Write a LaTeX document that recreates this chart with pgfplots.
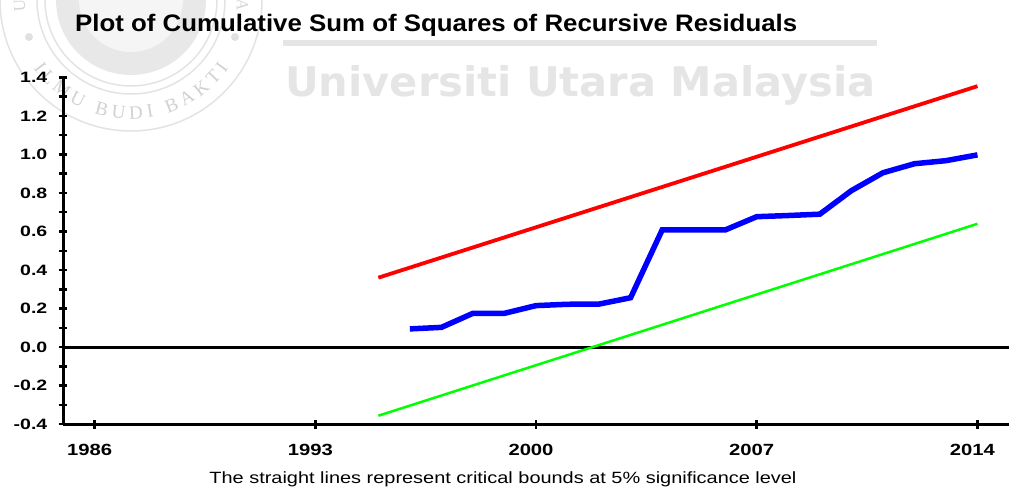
\documentclass[border=0pt]{standalone}
\usepackage{pgfplots}
\pgfplotsset{compat=1.18}
\usepackage{fontspec}
\setmainfont{Liberation Sans}
\newfontfamily\wmfont{DejaVu Sans}
\newfontfamily\logofont{Liberation Serif}
\usetikzlibrary{decorations.text}

% bold, widened tick labels
\newcommand\ytk[1]{\scalebox{1.3}[1]{\fontsize{15}{15}\selectfont\bfseries #1}}
\newcommand\xtk[1]{\resizebox{45pt}{11.3pt}{\bfseries #1}}

\begin{document}
\begin{tikzpicture}[x=1pt,y=1pt]
\useasboundingbox (0,0) rectangle (1009,490);

% faint watermark behind the chart
\begin{scope}
  \fill[black!9] (131,490) circle (75);
  \fill[black!4] (131,490) circle (52);
  \draw[black!11, line width=1.5] (131,490) circle (86);
  \draw[black!11, line width=1.5] (131,490) circle (94);
  \draw[black!11, line width=1.5] (131,490) circle (131);
  \fill[black!12] (29,453) circle (4);
  \fill[black!12] (235,453) circle (4);
  \path[decorate, decoration={text along path, text align={fit to path},
      text color=black!18,
      text={|\logofont\fontsize{19}{19}\selectfont|ILMU BUDI BAKTI}}]
    (131,490) ++(215:119) arc[start angle=215, end angle=325, radius=119];
  \path[decorate, decoration={text along path, text align={fit to path},
      text color=black!16,
      text={|\logofont\fontsize{17}{17}\selectfont|UNIVERSITI UTARA MALAYSIA}}]
    (131,490) ++(186:106) arc[start angle=186, end angle=-6, radius=106];
  \draw[black!10, line width=6] (283,447) -- (877,447);
  \node[anchor=base west, inner sep=0, text=black!10] at (285,393)
    {\resizebox{590pt}{31pt}{\wmfont\bfseries Universiti Utara Malaysia}};
\end{scope}

\node[anchor=base west, inner sep=0] at (75,458)
  {\resizebox{722pt}{17.3pt}{\bfseries Plot of Cumulative Sum of Squares of Recursive Residuals}};
\node[anchor=base, inner sep=0] at (503,6)
  {\resizebox{587pt}{11.8pt}{The straight lines represent critical bounds at 5\% significance level}};

\begin{axis}[
    at={(63pt,66pt)}, anchor=south west,
    scale only axis, width=946pt, height=346.5pt,
    xmin=1985, xmax=2015, ymin=-0.4, ymax=1.4,
    axis x line*=bottom, axis y line*=left,
    axis line style={line width=3pt, -},
    xtick={1986,1993,2000,2007,2014},
    xticklabels={\xtk{1986},\xtk{1993},\xtk{2000},\xtk{2007},\xtk{2014}},
    ytick={-0.4,-0.2,0,0.2,0.4,0.6,0.8,1.0,1.2,1.4},
    yticklabels={\ytk{-0.4},\ytk{-0.2},\ytk{0.0},\ytk{0.2},\ytk{0.4},\ytk{0.6},\ytk{0.8},\ytk{1.0},\ytk{1.2},\ytk{1.4}},
    minor y tick num=1,
    tick align=center,
    major tick length=9pt, minor tick length=9pt,
    every tick/.style={black, line width=2.5pt},
    xticklabel style={anchor=north, inner sep=0pt, yshift=-15pt, xshift=-5pt},
    yticklabel style={anchor=east, inner sep=0pt, xshift=-11pt},
    clip=false,
]
\addplot[black, line width=3pt] coordinates {(1985,0) (2015,0)};
\addplot[red, line width=3.8pt] coordinates {(1995,0.36) (2014,1.355)};
\addplot[green, line width=2.5pt] coordinates {(1995,-0.357) (2014,0.64)};
\addplot[blue, line width=5.5pt] coordinates {
  (1996,0.094) (1997,0.102) (1998,0.175) (1999,0.175) (2000,0.215)
  (2001,0.222) (2002,0.223) (2003,0.256) (2004,0.608) (2005,0.608)
  (2006,0.608) (2007,0.677) (2008,0.683) (2009,0.690) (2010,0.812)
  (2011,0.905) (2012,0.952) (2013,0.968) (2014,0.998)
};
\end{axis}
\end{tikzpicture}
\end{document}
